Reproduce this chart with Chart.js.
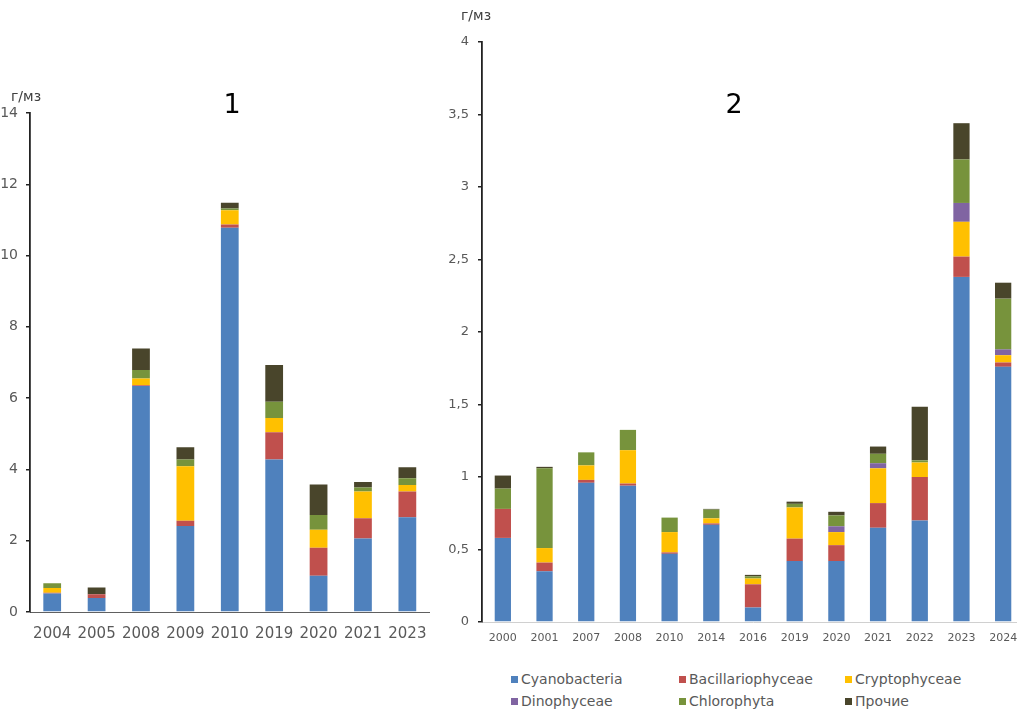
<!DOCTYPE html>
<html>
<head>
<meta charset="utf-8">
<script src="https://cdn.jsdelivr.net/npm/chart.js@4.4.1/dist/chart.umd.min.js"></script>
<style>
  html, body { margin:0; padding:0; background:#fff; width:1017px; height:716px; overflow:hidden; position:relative; font-family:"DejaVu Sans", Verdana, sans-serif; }
  canvas { position:absolute; }
  .lbl { position:absolute; color:#404040; font-size:14px; white-space:nowrap; }
  .ttl { position:absolute; color:#000; font-size:27px; transform:translate(-50%,-50%); }
  .leg { position:absolute; color:#595959; font-size:14px; white-space:nowrap; transform:translateY(-50%); }
  .leg span.sq { display:inline-block; width:7px; height:7px; margin-right:3px; vertical-align:middle; position:relative; top:-1px; }
</style>
</head>
<body>
<canvas id="c1" width="440" height="650" style="left:0;top:0"></canvas>
<canvas id="c2" width="590" height="660" style="left:440px;top:0"></canvas>
<div class="lbl" style="left:11px;top:88px">г/мз</div>
<div class="lbl" style="left:461px;top:7px">г/мз</div>
<div class="ttl" style="left:232px;top:103px">1</div>
<div class="ttl" style="left:734px;top:103px">2</div>
<div id="legend"></div>
<script>
// ---- data ----
const groups = ['Cyanobacteria','Bacillariophyceae','Cryptophyceae','Dinophyceae','Chlorophyta','Прочие'];
const colors = ['#4F81BD','#C0504D','#FFC000','#8064A2','#77933C','#49452B'];

const years1 = ['2004','2005','2008','2009','2010','2019','2020','2021','2023'];
const cyano1 = [0.52,0.39,6.34,2.41,10.78,4.28,1.02,2.06,2.66];
const bac1   = [0.02,0.11,0.02,0.15,0.09,0.76,0.78,0.57,0.72];
const cry1   = [0.13,0,0.19,1.53,0.40,0.40,0.51,0.75,0.18];
const dino1  = [0,0,0,0,0,0,0,0,0];
const chl1   = [0.14,0,0.24,0.19,0.05,0.46,0.41,0.11,0.19];
const oth1   = [0,0.19,0.60,0.34,0.16,1.03,0.86,0.16,0.31];

const years2 = ['2000','2001','2007','2008','2010','2014','2016','2019','2020','2021','2022','2023','2024'];
const cyano2 = [0.58,0.35,0.96,0.94,0.47,0.67,0.10,0.42,0.42,0.65,0.70,2.38,1.76];
const bac2   = [0.20,0.06,0.02,0.015,0.01,0.01,0.16,0.155,0.11,0.17,0.30,0.14,0.03];
const cry2   = [0,0.10,0.10,0.23,0.14,0.035,0.04,0.215,0.09,0.24,0.10,0.24,0.05];
const dino2  = [0,0,0,0,0,0,0,0,0.04,0.035,0,0.13,0.04];
const chl2   = [0.14,0.55,0.09,0.14,0.10,0.06,0.015,0.025,0.075,0.065,0.015,0.30,0.35];
const oth2   = [0.09,0.01,0,0,0,0.005,0.01,0.015,0.025,0.05,0.37,0.25,0.11];

const yMax1 = 14, yStep1 = 2;
const yMax2 = 4, yStep2 = 0.5;

// ---- build ----
function makeDatasets(series, bp) {
  return series.map((d, i) => ({
    label: groups[i], data: d, backgroundColor: colors[i], borderWidth: 0,
    barPercentage: bp, categoryPercentage: 1.0
  }));
}

function makeChart(id, labels, series, cfg) {
  return new Chart(document.getElementById(id), {
    type: 'bar',
    data: { labels: labels, datasets: makeDatasets(series, cfg.bp) },
    options: {
      responsive: false, animation: false,
      layout: { padding: { top: cfg.top, right: cfg.right, bottom: 0, left: 0 } },
      plugins: { legend: { display: false }, tooltip: { enabled: false }, title: { display: false } },
      scales: {
        x: {
          stacked: true,
          grid: { display: false, drawTicks: false },
          border: { display: true, color: cfg.xLine, width: 1 },
          ticks: { color: '#595959', font: { family: 'DejaVu Sans', size: cfg.xFont }, padding: cfg.xPad, maxRotation: 0, autoSkip: false },
          afterFit: s => { s.height = cfg.xH; }
        },
        y: {
          stacked: true, min: 0, max: cfg.max,
          grid: { display: true, drawOnChartArea: false, drawTicks: true, tickLength: 4, color: '#222', lineWidth: 1.5 },
          border: { display: true, color: '#222', width: 1.8 },
          ticks: { stepSize: cfg.step, color: '#595959', font: { family: 'DejaVu Sans', size: cfg.yFont }, padding: cfg.yPad,
                   callback: v => String(v).replace('.', ',') },
          afterFit: s => { s.width = cfg.yW; }
        }
      }
    }
  });
}

makeChart('c1', years1, [cyano1, bac1, cry1, dino1, chl1, oth1],
  { bp: 0.4, top: 113, right: 10, max: yMax1, step: yStep1, xFont: 15, yFont: 14, xPad: 13, xH: 38, yW: 30, yPad: 8, xLine: '#606060' });
makeChart('c2', years2, [cyano2, bac2, cry2, dino2, chl2, oth2],
  { bp: 0.39, top: 42, right: 6, max: yMax2, step: yStep2, xFont: 11, yFont: 13, xPad: 10, xH: 38, yW: 42, yPad: 9, xLine: '#d0d0d0' });

// ---- legend (HTML text) ----
const legX = [511, 679, 845], legY = [679, 701];
const legEl = document.getElementById('legend');
groups.forEach((g, i) => {
  const d = document.createElement('div');
  d.className = 'leg';
  d.style.left = legX[i % 3] + 'px';
  d.style.top = legY[Math.floor(i / 3)] + 'px';
  d.innerHTML = '<span class="sq" style="background:' + colors[i] + '"></span>' + g;
  legEl.appendChild(d);
});
</script>
</body>
</html>
